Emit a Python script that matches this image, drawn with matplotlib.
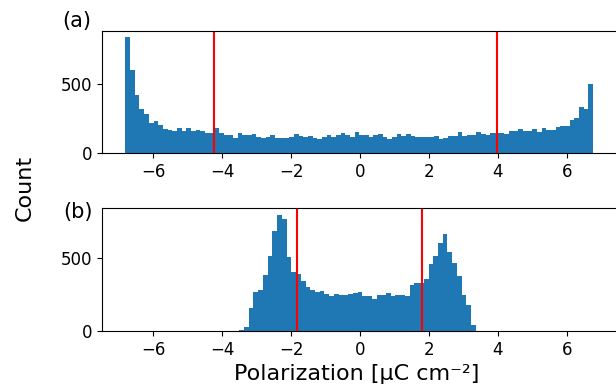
import numpy as np
import matplotlib
matplotlib.use("Agg")
import matplotlib.pyplot as plt

# histogram counts
# (a) 100 bins between -6.80 and 6.76
counts_a = [837, 600, 423, 317, 286, 220, 230, 206, 172, 165,
            160, 181, 160, 181, 160, 167, 160, 143, 143, 181,
            145, 128, 128, 112, 143, 128, 133, 140, 119, 112,
            116, 133, 111, 111, 111, 118, 135, 121, 114, 121,
            111, 104, 114, 128, 116, 128, 143, 128, 114, 150,
            128, 128, 114, 128, 135, 114, 104, 118, 135, 121,
            135, 126, 118, 118, 114, 118, 126, 104, 109, 126,
            121, 150, 121, 128, 133, 150, 135, 128, 143, 145,
            147, 140, 157, 157, 172, 157, 157, 172, 150, 179,
            164, 164, 186, 196, 196, 242, 256, 331, 317, 498]
range_a = (-6.80, 6.76)

# (b) 50 bins between -3.50 and 3.36
counts_b = [6, 29, 158, 265, 280, 387, 516, 687, 795, 766,
            505, 402, 390, 342, 300, 279, 266, 272, 255, 238,
            251, 247, 247, 251, 258, 265, 237, 237, 217, 247,
            247, 258, 237, 247, 247, 240, 315, 329, 329, 356,
            457, 516, 600, 664, 543, 465, 380, 247, 180, 44]
range_b = (-3.50, 3.36)

# red marker lines
lines_a = [-4.24, 3.96]
lines_b = [-1.83, 1.79]

xticks = [-6, -4, -2, 0, 2, 4, 6]
yticks = [0, 500]

W, H = 616, 387
fig = plt.figure(figsize=(W / 100, H / 100), dpi=100)

# axes rectangles in pixels (left, top, right, bottom)
ax1 = fig.add_axes([102 / W, 1 - 153 / H, (618 - 102) / W, 122 / H])
ax2 = fig.add_axes([102 / W, 1 - 331 / H, (618 - 102) / W, 123 / H])

for ax, counts, rng, vl in [(ax1, counts_a, range_a, lines_a),
                            (ax2, counts_b, range_b, lines_b)]:
    counts = np.array(counts, dtype=float)
    edges = np.linspace(rng[0], rng[1], len(counts) + 1)
    centers = 0.5 * (edges[:-1] + edges[1:])
    ax.hist(centers, bins=edges, weights=counts, color="C0")
    for v in vl:
        ax.axvline(v, color="red", lw=1.5)
    ax.set_xlim(-7.48, 7.48)
    ax.set_xticks(xticks)
    ax.set_xticklabels([("\u2212%d" % -t) if t < 0 else str(t) for t in xticks])
    ax.set_yticks(yticks)
    ax.tick_params(labelsize=12)

ax1.set_ylim(0, 884)
ax2.set_ylim(0, 843)

fig.text(77 / W, 1 - 21 / H, "(a)", fontsize=15, ha="center", va="center")
fig.text(78 / W, 1 - 212 / H, "(b)", fontsize=15, ha="center", va="center")
fig.text(25 / W, 1 - 188 / H, "Count", fontsize=16, rotation=90,
         ha="center", va="center")
fig.text(357 / W, 1 - 374 / H, "Polarization [\u03bcC cm\u207b\u00b2]", fontsize=16,
         ha="center", va="center")

fig.savefig("out.png", dpi=100)
